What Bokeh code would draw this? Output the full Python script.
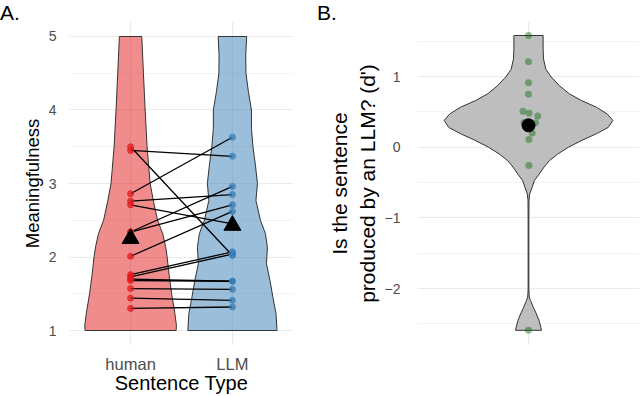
import numpy as np
from bokeh.plotting import figure
from bokeh.layouts import row, column
from bokeh.models import Range1d, FixedTicker, Whisker, ColumnDataSource, TeeHead, Div
from bokeh.embed import file_html
from bokeh.resources import INLINE

# ---------------- data: panel A ----------------
categories = ["human", "LLM"]
human_scores = [3.50, 3.45, 2.86, 2.76, 2.71, 2.34, 2.34, 2.01, 1.76, 1.73, 1.70, 1.68, 1.57, 1.44, 1.30]
llm_scores   = [2.02, 3.37, 3.63, 2.85, 2.45, 2.96, 2.71, 2.62, 2.07, 2.04, 1.67, 1.67, 1.56, 1.41, 1.32]
mean_human = 2.25
mean_llm = 2.43

# violin outlines (density half-widths, in category units)
violin_y_human = [5.0, 4.5, 4.0, 3.5, 3.0, 2.75, 2.5, 2.32, 2.14, 2.0, 1.75, 1.5, 1.25, 1.07, 1.0]
violin_w_human = [0.110, 0.126, 0.143, 0.162, 0.192, 0.226, 0.265, 0.315, 0.344, 0.359, 0.379, 0.403, 0.433, 0.450, 0.447]
violin_y_llm = [5.0, 4.75, 4.5, 4.25, 4.0, 3.75, 3.5, 3.25, 3.0, 2.77, 2.5, 2.32, 2.13, 1.91, 1.68, 1.45, 1.23, 1.0]
violin_w_llm = [0.140, 0.131, 0.133, 0.157, 0.187, 0.187, 0.202, 0.226, 0.246, 0.231, 0.275, 0.324, 0.344, 0.334, 0.369, 0.398, 0.428, 0.438]

a_ticks = [1, 2, 3, 4, 5]
a_minor = [1.5, 2.5, 3.5, 4.5]

# ---------------- data: panel B ----------------
dprime = [1.58, 1.21, 0.91, 0.75, 0.51, 0.48, 0.44, 0.35, 0.345, 0.20, 0.11, -0.26, -2.59]
dprime_jitter = [0.0, 0.0, 0.0, 0.0, -0.030, 0.003, 0.050, -0.024, 0.038, 0.020, 0.002, 0.002, 0.0]
dprime_mean = 0.31
dprime_lower = 0.06
dprime_upper = 0.56

violin_y_b = [1.58, 1.40, 1.25, 1.10, 0.99, 0.87, 0.755, 0.66, 0.566, 0.47, 0.378, 0.28, 0.19, 0.10, 0.0,
              -0.10, -0.19, -0.28, -0.38, -0.47, -0.57, -0.66, -0.75, -1.0, -2.0, -2.12, -2.17, -2.27,
              -2.36, -2.45, -2.55, -2.59]
violin_w_b = [0.079, 0.079, 0.081, 0.094, 0.124, 0.167, 0.221, 0.286, 0.367, 0.426, 0.456, 0.431, 0.367, 0.291, 0.216,
              0.156, 0.113, 0.084, 0.058, 0.032, 0.019, 0.0065, 0.0027, 0.002, 0.002, 0.004, 0.011, 0.027,
              0.043, 0.057, 0.067, 0.070]

b_ticks = [-2, -1, 0, 1]
b_tick_labels = ["\u22122", "\u22121", "0", "1"]
b_minor = [-2.5, -1.5, -0.5, 0.5, 1.5]

panel_tags = ["A.", "B."]

FONT = "Liberation Sans"
GRID = "#EBEBEB"


def violin_patch(center, ys, ws):
    ys = np.asarray(ys, float)
    ws = np.asarray(ws, float)
    xs = np.concatenate([center + ws, (center - ws)[::-1]])
    yy = np.concatenate([ys, ys[::-1]])
    return xs, yy


def style(p):
    p.outline_line_color = None
    p.background_fill_color = "white"
    for ax in p.axis:
        ax.axis_line_color = None
        ax.major_tick_line_color = None
        ax.minor_tick_line_color = None
        ax.major_label_text_font = FONT
        ax.major_label_text_color = "#4D4D4D"
        ax.axis_label_text_font = FONT
        ax.axis_label_text_font_style = "normal"
        ax.axis_label_text_color = "black"
    for g in p.grid:
        g.grid_line_color = GRID
        g.grid_line_width = 1.2
    p.ygrid.minor_grid_line_color = GRID
    p.ygrid.minor_grid_line_width = 0.6


def tag_div(width, text, left):
    return Div(text=text, width=width, height=21,
               styles={"font-family": "'Liberation Sans', Arial, sans-serif", "font-size": "21px",
                       "line-height": "21px", "color": "black", "padding-top": "2px",
                       "padding-left": f"{left}px", "margin": "0", "box-sizing": "border-box",
                       "overflow": "visible"})


# ---------------- panel A ----------------
pA = figure(width=308, height=375, x_range=Range1d(0.4, 2.6), y_range=Range1d(0.796, 5.204),
            output_backend="svg", toolbar_location=None,
            min_border_left=69, min_border_right=15, min_border_top=0, min_border_bottom=51)
style(pA)
pA.xaxis.ticker = FixedTicker(ticks=[1, 2])
pA.xaxis.major_label_overrides = {i + 1: c for i, c in enumerate(categories)}
pA.xaxis.major_label_text_font_size = "16.5px"
pA.xaxis.major_label_standoff = 3
pA.xaxis.axis_label = "Sentence Type"
pA.xaxis.axis_label_text_font_size = "20px"
pA.xaxis.axis_label_standoff = -4
pA.yaxis.ticker = FixedTicker(ticks=a_ticks, minor_ticks=a_minor)
pA.yaxis.major_label_text_font_size = "14px"
pA.yaxis.major_label_standoff = 7
pA.yaxis.axis_label = "Meaningfulness"
pA.yaxis.axis_label_text_font_size = "18.5px"
pA.yaxis.axis_label_standoff = 3

xh = categories.index("human") + 1
xl = categories.index("LLM") + 1
vx, vy = violin_patch(xh, violin_y_human, violin_w_human)
pA.patch(vx, vy, fill_color="#E41A1C", fill_alpha=0.5, line_color="#333333", line_width=1)
vx, vy = violin_patch(xl, violin_y_llm, violin_w_llm)
pA.patch(vx, vy, fill_color="#377EB8", fill_alpha=0.5, line_color="#333333", line_width=1)

n = len(human_scores)
pA.segment(x0=[xh] * n, y0=human_scores, x1=[xl] * n, y1=llm_scores, line_color="black", line_width=1.3)
pA.scatter([xh] * n, human_scores, size=6, fill_color="#E41A1C", line_color="#E41A1C", fill_alpha=0.7, line_alpha=0.8)
pA.scatter([xl] * n, llm_scores, size=6, fill_color="#377EB8", line_color="#377EB8", fill_alpha=0.7, line_alpha=0.8)
pA.scatter([xh, xl], [mean_human, mean_llm], marker="triangle", size=17, color="black")

# ---------------- panel B ----------------
pB = figure(width=332, height=375, x_range=Range1d(0.4, 1.6), y_range=Range1d(-2.805, 1.778),
            output_backend="svg", toolbar_location=None,
            min_border_left=109, min_border_right=1, min_border_top=0, min_border_bottom=51)
style(pB)
pB.xaxis.visible = False
pB.xgrid.ticker = FixedTicker(ticks=[1])
pB.yaxis.ticker = FixedTicker(ticks=b_ticks, minor_ticks=b_minor)
pB.yaxis.major_label_overrides = dict(zip(b_ticks, b_tick_labels))
pB.yaxis.major_label_text_font_size = "14px"
pB.yaxis.major_label_standoff = 11
pB.yaxis.axis_label = "Is the sentence\nproduced by an LLM? (d')"
pB.yaxis.axis_label_text_font_size = "21px"
pB.yaxis.axis_label_standoff = 3

vx, vy = violin_patch(1, violin_y_b, violin_w_b)
pB.patch(vx, vy, fill_color="#BEBEBE", line_color="#333333", line_width=1)
pB.scatter([1 + j for j in dprime_jitter], dprime, size=7, fill_color="#006400", line_color=None, fill_alpha=0.42)
src = ColumnDataSource(dict(base=[1], lower=[dprime_lower], upper=[dprime_upper]))
pB.add_layout(Whisker(source=src, base="base", lower="lower", upper="upper", dimension="height",
                      line_color="black", line_width=1.6,
                      upper_head=TeeHead(size=19, line_color="black", line_width=1.6),
                      lower_head=TeeHead(size=19, line_color="black", line_width=1.6)))
pB.scatter([1], [dprime_mean], size=13, color="black")

tagA = tag_div(308, panel_tags[0], 0)
tagB = tag_div(332, panel_tags[1], 9)

layout = row(column(tagA, pA), column(tagB, pB))
open("out.html", "w").write(file_html(layout, INLINE))
